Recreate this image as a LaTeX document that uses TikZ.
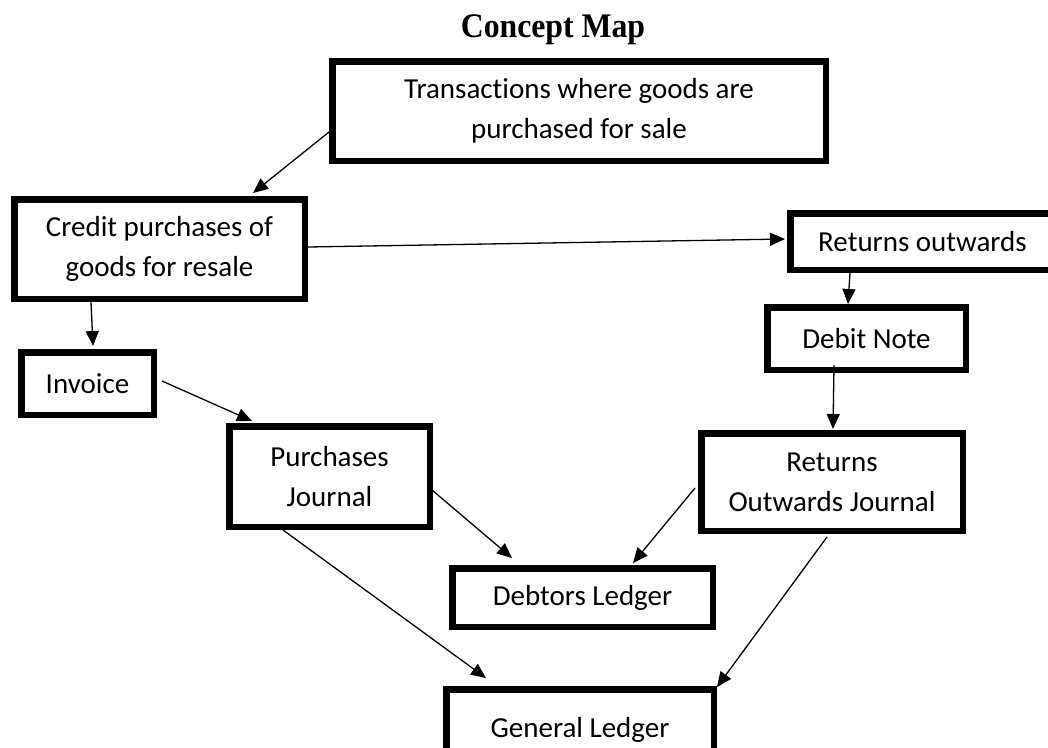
\documentclass[tikz,border=0pt]{standalone}
\usepackage{fontspec}
\setmainfont{Carlito}[Ligatures=NoCommon]
\newfontfamily\titlefont{Liberation Serif}[FakeStretch=0.92]
\usetikzlibrary{arrows.meta}

\begin{document}
\begin{tikzpicture}[x=1pt,y=-1pt,
  concept/.style={draw=black, line width=6.5pt, fill=white, inner sep=0pt,
    align=center, font=\fontsize{29}{40}\selectfont},
  link/.style={draw=black, line width=1.3pt,
    -{Triangle[length=15pt,width=13pt]}}]
  \useasboundingbox (0,0) rectangle (1048,747);
  \clip (0,0) rectangle (1048,747);

  % title
  \node[anchor=base, font=\titlefont\bfseries\fontsize{34.5}{38}\selectfont]
    (title) at (553,37) {Concept Map};

  % concepts (centre, size = outer size minus line width)
  \node[concept, minimum width=493.5pt, minimum height=99.5pt]
    (top) at (579,111) {Transactions where goods are\\purchased for sale};
  \node[concept, minimum width=290.5pt, minimum height=99.5pt]
    (credit) at (159.5,249) {Credit purchases of\\goods for resale};
  \node[concept, minimum width=132.5pt, minimum height=62.5pt]
    (invoice) at (87.5,383.5) {Invoice};
  \node[concept, minimum width=200.5pt, minimum height=100.5pt]
    (pj) at (329.5,476.5) {Purchases\\Journal};
  \node[concept, minimum width=264.5pt, minimum height=56.5pt]
    (ro) at (922.5,241.5) {Returns outwards};
  \node[concept, minimum width=198.5pt, minimum height=62.5pt]
    (dn) at (866.5,338.5) {Debit Note};
  \node[concept, minimum width=261.5pt, minimum height=97.5pt]
    (roj) at (832,482) {Returns\\Outwards Journal};
  \node[concept, minimum width=260.5pt, minimum height=58.5pt]
    (dl) at (582.5,597.5) {Debtors Ledger};
  \node[concept, minimum width=267.5pt, minimum height=81.5pt]
    (gl) at (580,730) {General Ledger};

  % links
  \draw[link] ([shift={(0,21)}]top.west) -- ([shift={(93.5,-3)}]credit.north);
  \draw[link] ([shift={(0,-2)}]credit.east) -- ([shift={(-2,-2.5)}]ro.west);
  \draw[link] ([shift={(-68.5,0)}]credit.south) -- ([shift={(5.5,-3)}]invoice.north);
  \draw[link] ([shift={(5,-2.5)}]invoice.east) -- ([shift={(-77.5,-2)}]pj.north);
  \draw[link] ([shift={(-72.5,0)}]ro.south) -- ([shift={(-18.5,0)}]dn.north);
  \draw[link] ([shift={(-32.5,-8)}]dn.south) -- ([shift={(1,-1)}]roj.north);
  \draw[link] ([shift={(-1,13.5)}]pj.east) -- ([shift={(-70.5,-7)}]dl.north);
  \draw[link] ([shift={(-3,6)}]roj.west) -- ([shift={(50.5,-2)}]dl.north);
  \draw[link] ([shift={(-46.5,0)}]pj.south) -- ([shift={(-94,-8)}]gl.north);
  \draw[link] ([shift={(-5,3)}]roj.south) -- ([shift={(0,1)}]gl.north east);
\end{tikzpicture}
\end{document}
